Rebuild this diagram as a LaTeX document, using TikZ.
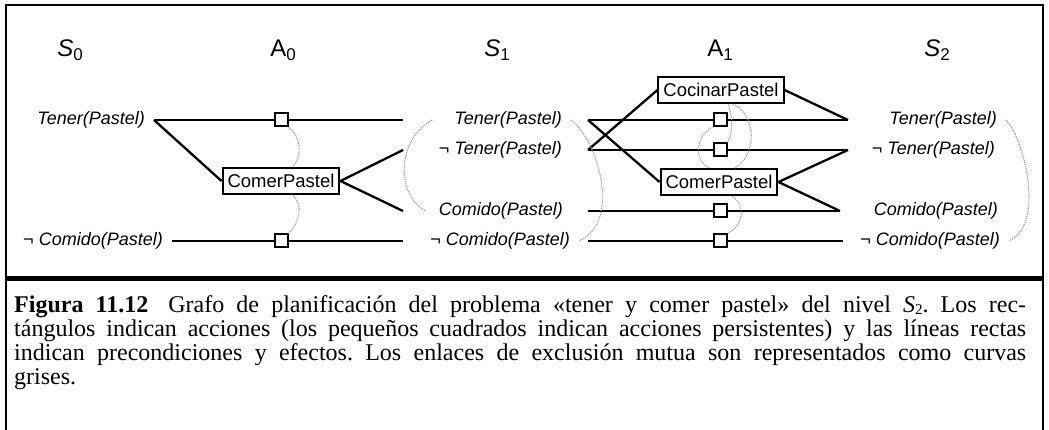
\documentclass[tikz,border=0pt]{standalone}
\usepackage{fontspec}
\setmainfont{Liberation Serif}
\setsansfont{Liberation Sans}
\usetikzlibrary{positioning}

\newcommand{\lvlname}[2]{#1\raisebox{-4pt}{\fontsize{17}{17}\selectfont #2}}

\begin{document}
\begin{tikzpicture}[
  x=1pt, y=-1pt,
  lev/.style={font=\sffamily\fontsize{24}{24}\selectfont, inner sep=0pt},
  lit/.style={font=\sffamily\itshape\fontsize{18}{18}\selectfont, inner xsep=9pt, inner ysep=0pt},
  act/.style={draw, line width=2pt, fill=white, font=\sffamily\fontsize{18.5}{18.5}\selectfont, inner xsep=5pt, inner ysep=0pt, minimum height=26pt},
  persist/.style={draw, line width=2pt, fill=white, minimum size=13pt, inner sep=0pt},
  link/.style={line width=2.3pt},
  mutex/.style={draw=gray!80, densely dotted, line width=1.1pt}
]
  \useasboundingbox (0,0) rectangle (1049,430);

  % frame and separator
  \draw[line width=1.5pt] (6,430) -- (6,5) -- (1043,5) -- (1043,430);
  \draw[line width=5pt] (6,279) -- (1043,279);

  % level headers
  \node[lev] (hS0) at (70,50) {\lvlname{\textit{S}}{0}};
  \node[lev] (hA0) at (283,50) {\lvlname{A}{0}};
  \node[lev] (hS1) at (497,50) {\lvlname{\textit{S}}{1}};
  \node[lev] (hA1) at (720,50) {\lvlname{A}{1}};
  \node[lev] (hS2) at (937,50) {\lvlname{\textit{S}}{2}};

  % literals S0
  \node[lit, anchor=east] (s0t) at (154,120) {Tener(Pastel)};
  \node[lit, anchor=east] (s0nc) at (172,241) {{\upshape ¬}\ Comido(Pastel)};
  % literals S1
  \node[lit, anchor=east] (s1t) at (571,120) {Tener(Pastel)};
  \node[lit, anchor=east] (s1nt) at (571,150) {{\upshape ¬}\ Tener(Pastel)};
  \node[lit, anchor=east] (s1c) at (572,211) {Comido(Pastel)};
  \node[lit, anchor=east] (s1nc) at (579,241) {{\upshape ¬}\ Comido(Pastel)};
  % literals S2
  \node[lit, anchor=east] (s2t) at (1006,120) {Tener(Pastel)};
  \node[lit, anchor=east] (s2nt) at (1004,150) {{\upshape ¬}\ Tener(Pastel)};
  \node[lit, anchor=east] (s2c) at (1007,211) {Comido(Pastel)};
  \node[lit, anchor=east] (s2nc) at (1009,241) {{\upshape ¬}\ Comido(Pastel)};

  % actions and persistence squares
  \node[act] (eat0) at (281,181) {ComerPastel};
  \node[persist] (p0t) at (281,120) {};
  \node[persist] (p0nc) at (281,241) {};
  \node[act] (cook) at (721,90) {CocinarPastel};
  \node[act] (eat1) at (719,182) {ComerPastel};
  \node[persist] (p1t) at (720,120) {};
  \node[persist] (p1nt) at (720,150) {};
  \node[persist] (p1c) at (720,211) {};
  \node[persist] (p1nc) at (720,241) {};

  % line ends beside the S1 and S2 columns
  \coordinate (j1t) at (403,120);
  \coordinate (j1nt) at (403,150);
  \coordinate (j1c) at (403,211);
  \coordinate (j1nc) at (403,241);
  \coordinate (k1t) at (588,120);
  \coordinate (k1nt) at (588,150);
  \coordinate (k1c) at (588,211);
  \coordinate (k1nc) at (588,241);
  \coordinate (k2t) at (848,120);
  \coordinate (k2nt) at (848,150);
  \coordinate (k2c) at (840,211);
  \coordinate (k2nc) at (843,241);

  % A0 links
  \draw[link] (s0t) -- (p0t) -- (j1t);
  \draw[link] (s0nc) -- (p0nc) -- (j1nc);
  \draw[link] (s0t.east) -- (eat0.west);
  \draw[link] (eat0.east) -- (j1nt);
  \draw[link] (eat0.east) -- (j1c);

  % A1 links
  \draw[link] (k1t) -- (p1t) -- (k2t);
  \draw[link] (k1nt) -- (p1nt) -- (k2nt);
  \draw[link] (k1c) -- (p1c) -- (k2c);
  \draw[link] (k1nc) -- (p1nc) -- (k2nc);
  \draw[link] (k1t) -- (eat1.west);
  \draw[link] (k1nt) -- (cook.west);
  \draw[link] (cook.east) -- (k2t);
  \draw[link] (eat1.east) -- (k2nt);
  \draw[link] (eat1.east) -- (k2c);

  % mutex curves
  \draw[mutex] (p0t.south east) .. controls (302,138) and (302,155) .. ([xshift=12pt]eat0.north);
  \draw[mutex] ([xshift=12pt]eat0.south) .. controls (303,205) and (300,222) .. (p0nc.north east);
  \draw[mutex] ([xshift=-13pt]s1t.west) .. controls (396,140) and (396,195) .. ([xshift=-4pt]s1c.west);
  \draw[mutex] (s1t.east) .. controls (598,140) and (622,222) .. (s1nc.east);
  \draw[mutex] ([xshift=12pt]cook.south) .. controls (757,115) and (757,155) .. ([xshift=16pt]eat1.north);
  \draw[mutex] (p1t.south west) .. controls (696,135) and (693,160) .. ([xshift=-10pt]eat1.north);
  \draw[mutex] (p1nt.north east) .. controls (734,130) and (732,115) .. ([xshift=7pt]cook.south);
  \draw[mutex] ([xshift=13pt]eat1.south) .. controls (746,205) and (744,225) .. (p1nc.north east);
  \draw[mutex] (s2t.east) .. controls (1025,140) and (1045,225) .. (s2nc.east);

  % caption
  \node[anchor=north west, inner sep=0pt, text width=1012pt, align=justify,
        font=\fontsize{24}{24.2}\selectfont] (cap) at (14,295)
    {\frenchspacing\tolerance=9999\hyphenpenalty=10000
     \textbf{Figura 11.12}\hspace{20pt}Grafo de planificación del problema «tener y comer pastel» del nivel \textit{S}\raisebox{-2.5pt}{\fontsize{15}{15}\selectfont 2}. Los rec-\linebreak
     tángulos indican acciones (los pequeños cuadrados indican acciones persistentes) y las líneas rectas\linebreak
     indican precondiciones y efectos. Los enlaces de exclusión mutua son representados como curvas\linebreak
     grises.};
\end{tikzpicture}
\end{document}
